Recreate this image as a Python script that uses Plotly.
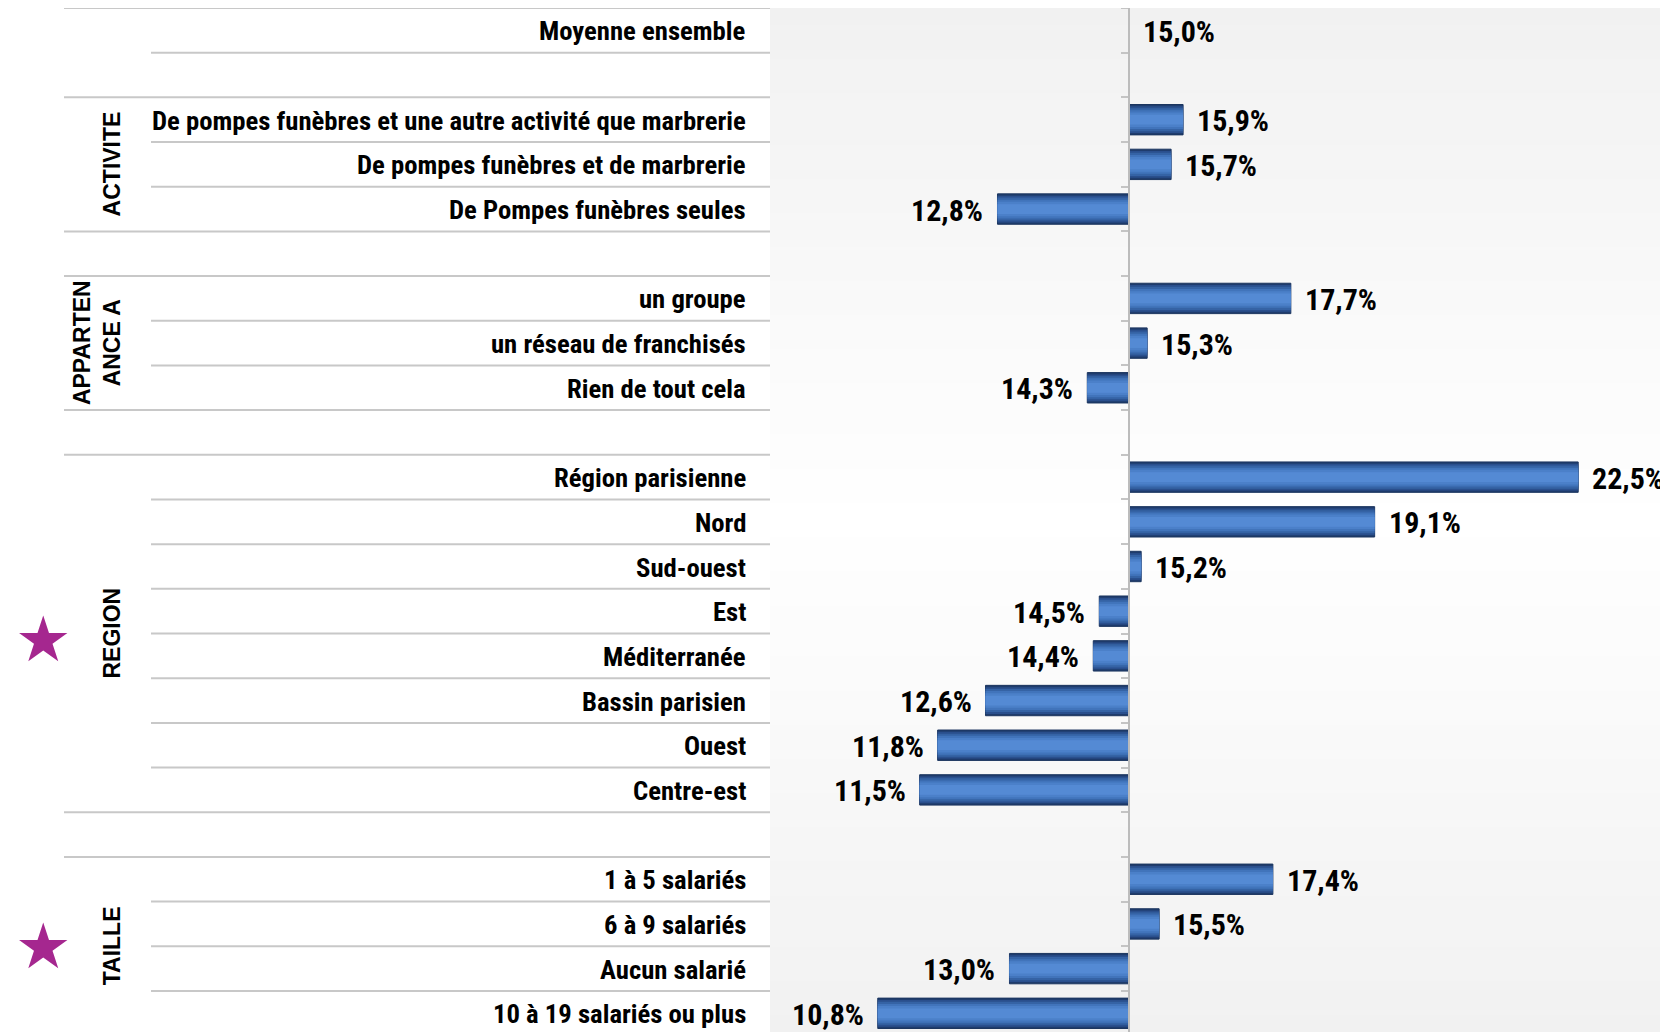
import plotly.graph_objects as go

# ---------------- data ----------------
overall_label = "Moyenne ensemble"
overall_value = 15.0

group_names = ["ACTIVITE", "APPARTEN<br>ANCE A", "REGION", "TAILLE"]
group_starred = [False, False, True, True]

activite_labels = ["De pompes funèbres et une autre activité que marbrerie",
                   "De pompes funèbres et de marbrerie",
                   "De Pompes funèbres seules"]
activite_values = [15.9, 15.7, 12.8]

appartenance_labels = ["un groupe", "un réseau de franchisés", "Rien de tout cela"]
appartenance_values = [17.7, 15.3, 14.3]

region_labels = ["Région parisienne", "Nord", "Sud-ouest", "Est", "Méditerranée",
                 "Bassin parisien", "Ouest", "Centre-est"]
region_values = [22.5, 19.1, 15.2, 14.5, 14.4, 12.6, 11.8, 11.5]

taille_labels = ["1 à 5 salariés", "6 à 9 salariés", "Aucun salarié",
                 "10 à 19 salariés ou plus"]
taille_values = [17.4, 15.5, 13.0, 10.8]

group_labels = [activite_labels, appartenance_labels, region_labels, taille_labels]
group_values = [activite_values, appartenance_values, region_values, taille_values]

x_min, x_max = 9, 24
base = overall_value

# ---------------- build rows ----------------
rows_label, rows_value = [overall_label], [overall_value]
group_spans = []  # (first_row, last_row)
for labs, vals in zip(group_labels, group_values):
    rows_label.append(None)
    rows_value.append(None)
    first = len(rows_label)
    rows_label.extend(labs)
    rows_value.extend(vals)
    group_spans.append((first, len(rows_label) - 1))
n_rows = len(rows_label)

bar_rows = [i for i, v in enumerate(rows_value) if v is not None]
bar_vals = [rows_value[i] for i in bar_rows]

# ---------------- geometry / style ----------------
PAGE_OFF = 8                # browser default body margin
W, H = 1660, 1024
M_L, M_T = 762, 0
PLOT_W = W - M_L
def px(xpage):
    return (xpage - PAGE_OFF - M_L) / PLOT_W

narrow = "Roboto Condensed, Liberation Sans Narrow, Arial Narrow, Roboto, sans-serif"
label_font = dict(family=narrow, size=26.7, color="#000000", weight="bold")
value_font = dict(family=narrow, size=30, color="#000000", weight="bold")
group_font = dict(family="Liberation Sans, Arial, sans-serif", size=23, color="#000000",
                  weight="bold")
line_col = "#c8c8c8"
bar_w = 0.68
layers = [(1.00, "#1f3c6d"), (0.88, "#2a4f8d"), (0.76, "#3563a5"), (0.62, "#4174bb"),
          (0.48, "#4b80c9"), (0.32, "#548ad4")]

fig = go.Figure()
for k, (frac, col) in enumerate(layers):
    fig.add_trace(go.Bar(
        y=bar_rows, x=[v - base for v in bar_vals], base=base, orientation="h",
        width=bar_w * frac, marker=dict(color=col,
                                       line=dict(width=1 if k == 0 else 0, color="#1b355f")),
        hoverinfo="skip", showlegend=False))

annotations = []
# value labels
for r, v in zip(bar_rows, bar_vals):
    neg = v < base
    annotations.append(dict(
        x=v, y=r, xref="x", yref="y", text=f"{v:.1f}%".replace(".", ","),
        xanchor="right" if neg else "left", xshift=-12 if neg else 12,
        showarrow=False, font=value_font, yanchor="middle", yshift=-1))
# category labels
for r, lab in enumerate(rows_label):
    if lab:
        annotations.append(dict(x=0, y=r, xref="paper", yref="y", text=lab,
                                xanchor="right", xshift=-22, showarrow=False,
                                font=label_font, yanchor="middle", yshift=-1))
# group labels + stars
star_yshift = {2: -6, 3: 0}
for gi, (name, (a, b), star) in enumerate(zip(group_names, group_spans, group_starred)):
    cy = (a + b) / 2
    two = "<br>" in name
    annotations.append(dict(x=px(97 if two else 112), y=cy, xref="paper", yref="y",
                            text=name, textangle=-90, showarrow=False, font=group_font,
                            xanchor="center", yanchor="middle"))
    if star:
        annotations.append(dict(x=px(43), y=cy, xref="paper", yref="y", text="★",
                                showarrow=False, xanchor="center", yanchor="middle",
                                yshift=star_yshift.get(gi, 0),
                                font=dict(family="DejaVu Sans", size=63, color="#a5278f")))

shapes = []
# background vertical gradient gray -> white -> gray
n_strips = 60
c_edge, c_mid = 241, 255
for i in range(n_strips):
    t = (i + 0.5) / n_strips
    d = abs(t - 0.5) / 0.5
    c = round(c_mid - (c_mid - c_edge) * d)
    shapes.append(dict(type="rect", xref="paper", yref="paper", x0=0, x1=1,
                       y0=i / n_strips, y1=(i + 1) / n_strips + 0.001,
                       fillcolor=f"rgb({c},{c},{c})", line=dict(width=0), layer="below"))
# separator lines in the label area
long_bounds = {-0.5}
for a, b in group_spans:
    long_bounds.add(a - 0.5)
    long_bounds.add(b + 0.5)
for k in range(n_rows + 1):
    yb = k - 0.5
    x0 = px(64) if (yb in long_bounds or k == n_rows) else px(151)
    shapes.append(dict(type="line", xref="paper", yref="y", x0=x0, x1=0, y0=yb, y1=yb,
                       line=dict(color=line_col, width=2)))

row_px = 44.68
fig.update_layout(
    width=W, height=H, barmode="overlay",
    margin=dict(l=M_L, r=0, t=M_T, b=0),
    paper_bgcolor="white", plot_bgcolor="rgba(0,0,0,0)",
    xaxis=dict(range=[x_min, x_max], visible=False, fixedrange=True),
    yaxis=dict(range=[(H - M_T) / row_px - 0.5, -0.5], anchor="free",
               position=(base - x_min) / (x_max - x_min),
               showline=True, linecolor="#bcbcbc", linewidth=1.5,
               ticks="outside", ticklen=7, tickcolor="#c4c4c4", tickwidth=1.5,
               tickvals=[k - 0.5 for k in range(n_rows + 1)],
               showticklabels=False, showgrid=False, zeroline=False),
    annotations=annotations, shapes=shapes, showlegend=False,
)
fig.write_html("out.html")
